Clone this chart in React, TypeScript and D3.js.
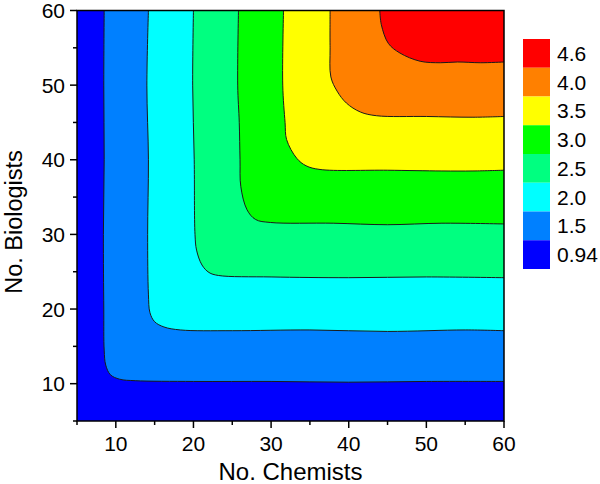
import React from "react";
import * as d3 from "d3";

// Legend levels (lower bound of each band) and colours
const levelLabels = ["0.94", "1.5", "2.0", "2.5", "3.0", "3.5", "4.0", "4.6"];
const levelColors = ["#0000FF", "#0080FF", "#00FFFF", "#00FF80", "#00FF00", "#FFFF00", "#FF8000", "#FF0000"];

// Contour lines (data units: [chemists, biologists]) for each level above the minimum
const contour15: [number, number][] = [[8.5, 60], [8.45, 50], [8.5, 40], [8.4, 30], [8.45, 20], [8.5, 14.5], [8.7, 12.5], [9.3, 11.2], [10.5, 10.6], [12.5, 10.4], [20, 10.3], [30, 10.3], [40, 10.2], [50, 10.3], [60, 10.3]];
const contour20: [number, number][] = [[14.2, 60], [14.0, 50], [14.2, 40], [14.1, 30], [14.2, 22], [14.4, 19.5], [15.0, 18.3], [16.2, 17.6], [18.3, 17.2], [25, 17.1], [35, 17.2], [45, 17.0], [55, 17.2], [60, 17.1]];
const contour25: [number, number][] = [[20.0, 60], [19.9, 50], [20.1, 40], [20.2, 30], [20.4, 27.9], [21.1, 25.9], [22.0, 24.9], [23.2, 24.5], [30, 24.3], [40, 24.2], [50, 24.3], [60, 24.2]];
const contour30: [number, number][] = [[25.8, 60], [25.7, 50], [25.9, 45], [26.0, 40], [26.1, 36.4], [26.9, 33.3], [28.0, 32.0], [29.9, 31.6], [38, 31.5], [45, 31.3], [52, 31.5], [60, 31.4]];
const contour35: [number, number][] = [[31.6, 60], [31.5, 50], [31.8, 45], [32.0, 42.7], [33.3, 40.2], [34.5, 39.2], [36.3, 38.7], [45, 38.6], [52, 38.5], [56, 38.5], [60, 38.6]];
const contour40: [number, number][] = [[37.6, 60], [37.6, 55], [37.7, 51.1], [38.5, 49.2], [39.7, 47.6], [41.5, 46.4], [43.6, 45.9], [50, 45.8], [56, 45.7], [60, 45.8]];
const contour46: [number, number][] = [[44.0, 60], [44.2, 58.1], [45.1, 55.6], [46.6, 54.3], [49.2, 53.2], [51.8, 53.0], [54, 53.1], [57, 53.0], [60, 53.1]];
const contours = [contour15, contour20, contour25, contour30, contour35, contour40, contour46];

const majorTicks = [10, 20, 30, 40, 50, 60];
const minorTicks = [5, 15, 25, 35, 45, 55];

const W = 600, H = 484;
const L = 77, R = 504, T = 10.5, B = 421;

export default function App() {
  const x = d3.scaleLinear().domain([5, 60]).range([L, R]);
  const y = d3.scaleLinear().domain([5, 60]).range([B, T]);
  const line = d3.line<[number, number]>().x(d => x(d[0])).y(d => y(d[1])).curve(d3.curveCatmullRom.alpha(0.5));

  const regionPath = (pts: [number, number][]) => {
    const d = line(pts) || "";
    return d + `L${x(60)},${y(60)}Z`;
  };

  const legX = 523, legTop = 39, legW = 27, legH = 28.75;
  const font = "Arial, 'Liberation Sans', sans-serif";

  return (
    <svg width={W} height={H} style={{ position: "absolute", left: 0, top: 0, background: "#fff" }} fontFamily={font}>
      <defs>
        <clipPath id="plotClip"><rect x={L} y={T} width={R - L} height={B - T} /></clipPath>
      </defs>
      <g clipPath="url(#plotClip)">
        <rect x={L} y={T} width={R - L} height={B - T} fill={levelColors[0]} />
        {contours.map((c, i) => (
          <path key={i} d={regionPath(c)} fill={levelColors[i + 1]} stroke="none" />
        ))}
        {contours.map((c, i) => (
          <path key={"l" + i} d={line(c) || ""} fill="none" stroke="#1a1a1a" strokeWidth={1} />
        ))}
      </g>
      <rect x={L} y={T} width={R - L} height={B - T} fill="none" stroke="#000" strokeWidth={1.5} />
      {/* x axis ticks */}
      {majorTicks.map(t => (
        <g key={"xm" + t}>
          <line x1={x(t)} x2={x(t)} y1={B} y2={B + 7} stroke="#000" strokeWidth={1.5} />
          <text x={x(t)} y={451} textAnchor="middle" fontSize={21}>{t}</text>
        </g>
      ))}
      {minorTicks.map(t => (
        <line key={"xn" + t} x1={x(t)} x2={x(t)} y1={B} y2={B + 4} stroke="#000" strokeWidth={1.5} />
      ))}
      {/* y axis ticks */}
      {majorTicks.map(t => (
        <g key={"ym" + t}>
          <line x1={L} x2={L - 7} y1={y(t)} y2={y(t)} stroke="#000" strokeWidth={1.5} />
          <text x={65} y={y(t)} dy="0.36em" textAnchor="end" fontSize={21}>{t}</text>
        </g>
      ))}
      {minorTicks.map(t => (
        <line key={"yn" + t} x1={L} x2={L - 4} y1={y(t)} y2={y(t)} stroke="#000" strokeWidth={1.5} />
      ))}
      <text x={(L + R) / 2} y={480} textAnchor="middle" fontSize={24}>No. Chemists</text>
      <text transform={`translate(22,222) rotate(-90)`} textAnchor="middle" fontSize={23.5}>No. Biologists</text>
      {/* legend */}
      {levelLabels.map((lab, i) => {
        const idx = levelLabels.length - 1 - i;
        return (
          <g key={"lg" + i}>
            <rect x={legX} y={legTop + i * legH} width={legW} height={legH} fill={levelColors[idx]} />
            <text x={557} y={legTop + i * legH + legH / 2} dy="0.36em" fontSize={21}>{levelLabels[idx]}</text>
          </g>
        );
      })}
    </svg>
  );
}
